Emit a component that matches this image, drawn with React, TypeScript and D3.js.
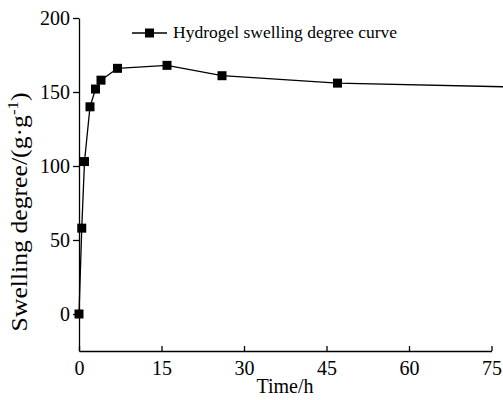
import React, { useEffect, useRef } from 'react';
import * as d3 from 'd3';

// swelling curve
const timeH = [0, 0.5, 1, 2, 3, 4, 7, 16, 26, 47, 96];
const swelling = [0, 58, 103, 140, 152, 158, 166, 168, 161, 156, 152];
const xTicks = [0, 15, 30, 45, 60, 75];
const yTicks = [0, 50, 100, 150, 200];
const legendLabel = 'Hydrogel swelling degree curve';

const W = 503;
const H = 400;
const FONT = '"Liberation Serif", "Times New Roman", serif';

export default function App() {
  const svgRef = useRef<SVGSVGElement>(null);

  useEffect(() => {
    if (!svgRef.current) return;
    const svg = d3.select(svgRef.current);
    svg.selectAll('*').remove();

    const x = d3.scaleLinear().domain([0, 75]).range([79, 491.5]);
    const y = d3.scaleLinear().domain([-25, 200]).range([351, 18]);

    const pts = timeH.map((t, i) => ({ t, v: swelling[i] }));

    // axes
    const xAxis = svg.append('g')
      .attr('transform', `translate(0,${y(-25)})`)
      .call(d3.axisBottom(x).tickValues(xTicks).tickSize(-5).tickSizeOuter(0).tickPadding(10));
    xAxis.select('.domain').attr('stroke', '#000').attr('stroke-width', 1.3);
    xAxis.selectAll('.tick line').attr('stroke', '#000').attr('stroke-width', 1.3);
    xAxis.selectAll('text')
      .attr('fill', '#000')
      .style('font-family', FONT)
      .style('font-size', '20px');

    const yAxis = svg.append('g')
      .attr('transform', `translate(${x(0)},0)`)
      .call(d3.axisLeft(y).tickValues(yTicks).tickSize(6).tickSizeOuter(0).tickPadding(3));
    yAxis.select('.domain').attr('stroke', '#000').attr('stroke-width', 1.3);
    yAxis.selectAll('.tick line').attr('stroke', '#000').attr('stroke-width', 1.3);
    yAxis.selectAll('text')
      .attr('fill', '#000')
      .style('font-family', FONT)
      .style('font-size', '20px');

    // axis titles
    svg.append('text')
      .attr('x', 285)
      .attr('y', 393)
      .attr('text-anchor', 'middle')
      .style('font-family', FONT)
      .style('font-size', '20px')
      .text('Time/h');

    const yl = svg.append('text')
      .attr('transform', `translate(27,212) rotate(-90)`)
      .attr('text-anchor', 'middle')
      .attr('textLength', 239)
      .attr('lengthAdjust', 'spacingAndGlyphs')
      .style('font-family', FONT)
      .style('font-size', '23px');
    yl.append('tspan').text('Swelling degree/(g·g');
    yl.append('tspan').attr('dy', -9).style('font-size', '15px').text('-1');
    yl.append('tspan').attr('dy', 9).text(')');

    // curve
    const line = d3.line<{ t: number; v: number }>()
      .x((d) => x(d.t))
      .y((d) => y(d.v));
    svg.append('path')
      .datum(pts)
      .attr('d', line)
      .attr('fill', 'none')
      .attr('stroke', '#000')
      .attr('stroke-width', 1.3);

    const m = 9;
    svg.selectAll('rect.pt')
      .data(pts)
      .join('rect')
      .attr('class', 'pt')
      .attr('x', (d) => x(d.t) - m / 2)
      .attr('y', (d) => y(d.v) - m / 2)
      .attr('width', m)
      .attr('height', m)
      .attr('fill', '#000');

    // legend
    const lg = svg.append('g').attr('transform', 'translate(132,33)');
    lg.append('line')
      .attr('x1', 0).attr('x2', 35)
      .attr('y1', 0).attr('y2', 0)
      .attr('stroke', '#000').attr('stroke-width', 1.3);
    lg.append('rect')
      .attr('x', 17.5 - m / 2).attr('y', -m / 2)
      .attr('width', m).attr('height', m)
      .attr('fill', '#000');
    lg.append('text')
      .attr('x', 41)
      .attr('y', 5)
      .style('font-family', FONT)
      .style('font-size', '17.5px')
      .text(legendLabel);
  }, []);

  return (
    <svg
      ref={svgRef}
      width={W}
      height={H}
      style={{ position: 'absolute', left: 0, top: 0, background: '#fff', display: 'block' }}
    />
  );
}
